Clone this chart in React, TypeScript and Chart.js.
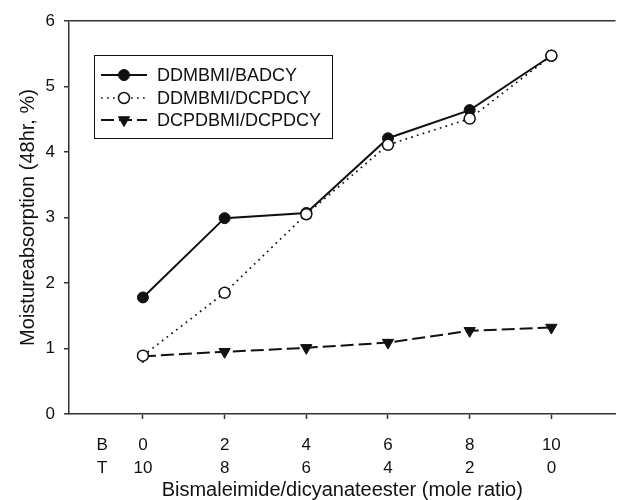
import React, { useEffect, useRef } from 'react';
import { Chart, registerables } from 'chart.js';

Chart.register(...registerables);

// ---- data ----
const ratioB = [0, 2, 4, 6, 8, 10];
const tickValues = [-1, 0, 2, 4, 6, 8, 10];
const tickRowB = ['B', '0', '2', '4', '6', '8', '10'];
const tickRowT = ['T', '10', '8', '6', '4', '2', '0'];
const seriesNames = ['DDMBMI/BADCY', 'DDMBMI/DCPDCY', 'DCPDBMI/DCPDCY'];
const ddmbmiBadcy = [1.78, 2.99, 3.07, 4.21, 4.64, 5.47];
const ddmbmiDcpdcy = [0.89, 1.85, 3.05, 4.11, 4.51, 5.47];
const dcpdbmiDcpdcy = [0.88, 0.95, 1.01, 1.09, 1.27, 1.32];

const FONT = '"Liberation Sans", Arial, sans-serif';
const INK = '#111';

function drawMarker(ctx: CanvasRenderingContext2D, ds: any, x: number, y: number) {
  const r = ds.pointRadius;
  ctx.save();
  ctx.setLineDash([]);
  ctx.lineWidth = ds.pointBorderWidth;
  ctx.strokeStyle = ds.pointBorderColor;
  ctx.fillStyle = ds.pointBackgroundColor;
  ctx.beginPath();
  if (ds.pointStyle === 'triangle') {
    const w = r * Math.sqrt(3) / 2;
    ctx.moveTo(x - w, y - r / 2);
    ctx.lineTo(x + w, y - r / 2);
    ctx.lineTo(x, y + r);
    ctx.closePath();
  } else {
    ctx.arc(x, y, r, 0, Math.PI * 2);
  }
  ctx.fill();
  ctx.stroke();
  ctx.restore();
}

const boxLegend = {
  id: 'boxLegend',
  afterDatasetsDraw(chart: any) {
    const ctx: CanvasRenderingContext2D = chart.ctx;
    ctx.save();
    const bx = 94, by = 55, bw = 238, bh = 83;
    ctx.fillStyle = '#fff';
    ctx.fillRect(bx, by, bw, bh);
    ctx.strokeStyle = INK;
    ctx.lineWidth = 1;
    ctx.strokeRect(bx + 0.5, by + 0.5, bw, bh);
    const rows = [75, 98, 120];
    chart.data.datasets.forEach((ds: any, i: number) => {
      const y = rows[i];
      ctx.save();
      ctx.setLineDash(ds.borderDash || []);
      ctx.lineWidth = ds.borderWidth;
      ctx.strokeStyle = ds.borderColor;
      ctx.beginPath();
      ctx.moveTo(101, y);
      ctx.lineTo(147, y);
      ctx.stroke();
      ctx.restore();
      drawMarker(ctx, ds, 124, y);
      ctx.fillStyle = INK;
      ctx.font = `18px ${FONT}`;
      ctx.textBaseline = 'middle';
      ctx.textAlign = 'left';
      ctx.fillText(ds.label, 157, y + 1);
    });
    ctx.restore();
  },
};

export default function App() {
  const ref = useRef<HTMLCanvasElement | null>(null);
  useEffect(() => {
    if (!ref.current) return;
    const toPts = (arr: number[]) => ratioB.map((x, i) => ({ x, y: arr[i] }));
    const chart = new Chart(ref.current, {
      type: 'line',
      data: {
        datasets: [
          {
            label: seriesNames[0],
            data: toPts(ddmbmiBadcy),
            borderColor: INK,
            borderWidth: 2,
            borderDash: [],
            pointStyle: 'circle',
            pointRadius: 5.5,
            pointBackgroundColor: INK,
            pointBorderColor: INK,
            pointBorderWidth: 1,
            order: 2,
          } as any,
          {
            label: seriesNames[1],
            data: toPts(ddmbmiDcpdcy),
            borderColor: INK,
            borderWidth: 1.7,
            borderDash: [1.7, 4.3],
            pointStyle: 'circle',
            pointRadius: 5.5,
            pointBackgroundColor: '#fff',
            pointBorderColor: INK,
            pointBorderWidth: 1.5,
            order: 1,
          } as any,
          {
            label: seriesNames[2],
            data: toPts(dcpdbmiDcpdcy),
            borderColor: INK,
            borderWidth: 2,
            borderDash: [13, 5],
            pointStyle: 'triangle',
            pointRotation: 180,
            pointRadius: 6.5,
            pointBackgroundColor: INK,
            pointBorderColor: INK,
            pointBorderWidth: 1,
            order: 3,
          } as any,
        ],
      },
      options: {
        animation: false,
        responsive: true,
        maintainAspectRatio: false,
        layout: { padding: { left: 0, right: 0, top: 21, bottom: 0 } },
        plugins: {
          legend: { display: false },
          tooltip: { enabled: false },
        },
        elements: { line: { tension: 0 } },
        scales: {
          x: {
            type: 'linear',
            min: -1.81,
            max: 11.57,
            afterFit: (s: any) => { s.height = 86; },
            afterBuildTicks: (s: any) => { s.ticks = tickValues.map((v) => ({ value: v })); },
            border: { display: true, color: '#333', width: 1.5 },
            grid: {
              display: true,
              drawOnChartArea: false,
              color: 'transparent',
              tickColor: (c: any) => (c.tick && c.tick.value === -1 ? 'transparent' : '#333'),
              tickLength: 5,
              tickWidth: 1.5,
            },
            ticks: {
              autoSkip: false,
              maxRotation: 0,
              padding: 15,
              color: INK,
              font: { family: FONT, size: 17, lineHeight: 1.35 },
              callback: (v: any) => {
                const i = tickValues.indexOf(Number(v));
                return i >= 0 ? [tickRowB[i], tickRowT[i]] : '';
              },
            },
            title: {
              display: true,
              text: 'Bismaleimide/dicyanateester (mole ratio)',
              color: INK,
              font: { family: FONT, size: 20, lineHeight: 1 },
              padding: { top: 0, bottom: 0 },
            },
          },
          y: {
            type: 'linear',
            min: 0,
            max: 6,
            afterFit: (s: any) => { s.width = 69; },
            border: { display: true, color: '#333', width: 1.5 },
            grid: {
              display: true,
              color: (c: any) => (c.tick && c.tick.value === 6 ? '#333' : 'transparent'),
              lineWidth: 1.5,
              tickColor: '#333',
              tickLength: 5,
              tickWidth: 1.5,
            },
            ticks: {
              stepSize: 1,
              padding: 9,
              color: INK,
              font: { family: FONT, size: 17 },
            },
            title: {
              display: true,
              text: 'Moistureabsorption (48hr, %)',
              color: INK,
              font: { family: FONT, size: 20 },
              padding: { top: 16, bottom: 0 },
            },
          },
        },
      } as any,
      plugins: [boxLegend],
    });
    return () => chart.destroy();
  }, []);
  return (
    <div style={{ position: 'absolute', left: 0, top: 0, width: 623, height: 500, background: '#fff' }}>
      <canvas ref={ref} />
    </div>
  );
}
